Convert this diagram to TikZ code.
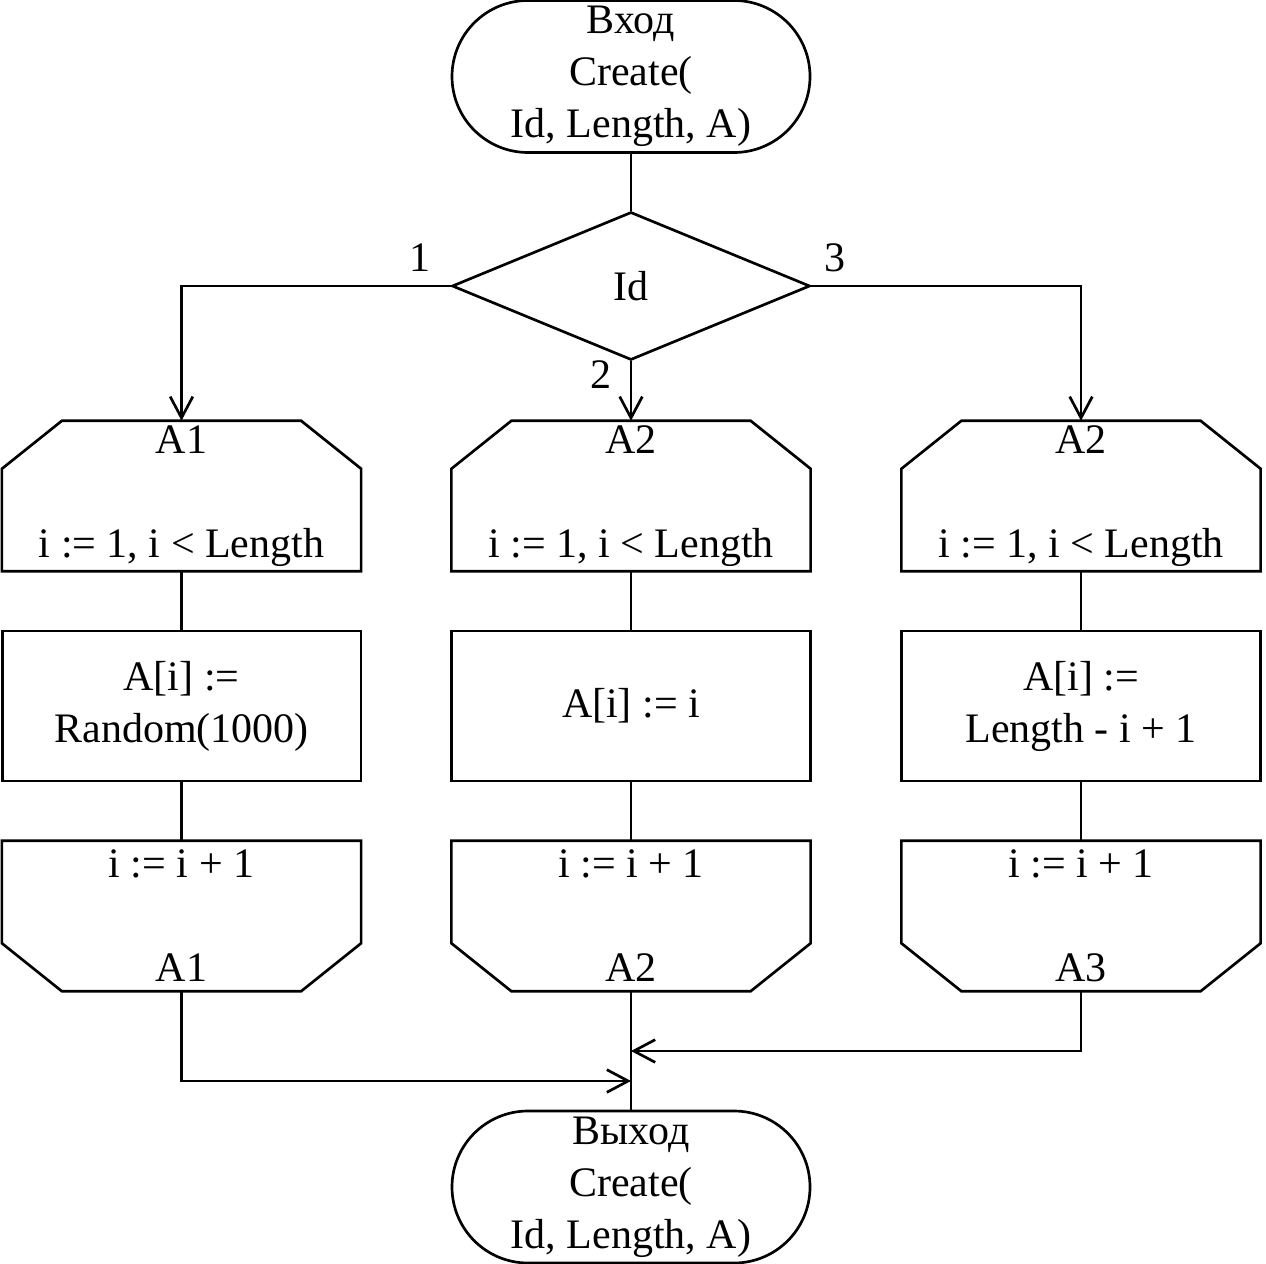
\documentclass[tikz,border=0pt]{standalone}
\usepackage{fontspec}
\setmainfont{Liberation Serif}
\usetikzlibrary{arrows.meta,shapes.geometric}
\begin{document}
\begin{tikzpicture}[x=0.75pt,y=-0.75pt,
  every node/.style={font=\fontsize{31.5}{39}\selectfont, align=center, inner sep=0pt},
  conn/.style={line width=2pt},
  arr/.style={conn, -{Straight Barb[length=16pt,width=17pt,line width=2pt]}},
  term/.style={draw, line width=2pt, rectangle, rounded corners=57pt, minimum width=268.5pt, minimum height=114pt},
  dec/.style={draw, line width=2pt, diamond, minimum width=268.5pt, minimum height=111pt},
  proc/.style={draw, line width=2pt, rectangle, minimum width=269pt, minimum height=112.5pt},
  loopbox/.style={rectangle, minimum width=269pt, minimum height=112.5pt},
  lbl/.style={}
]
\useasboundingbox (0,0) rectangle (1266,1263);

\node[term] (start) at (631,76.5) {Вход\\Create(\\Id, Length, A)};
\node[dec] (d) at (631,286) {Id};

\node[loopbox] (s1) at (181.5,496) {A1\\ \\i := 1, i {\char`\<} Length};
\node[loopbox] (s2) at (631,496) {A2\\ \\i := 1, i {\char`\<} Length};
\node[loopbox] (s3) at (1081,496) {A2\\ \\i := 1, i {\char`\<} Length};

\node[proc] (p1) at (181.5,706) {A[i] :=\\Random(1000)};
\node[proc] (p2) at (631,706) {A[i] := i};
\node[proc] (p3) at (1081,706) {A[i] :=\\Length - i + 1};

\node[loopbox] (e1) at (181.5,916) {i := i + 1\\ \\A1};
\node[loopbox] (e2) at (631,916) {i := i + 1\\ \\A2};
\node[loopbox] (e3) at (1081,916) {i := i + 1\\ \\A3};

\node[term] (end) at (631,1187) {Выход\\Create(\\Id, Length, A)};

\node[lbl] (l1) at (420,258) {1};
\node[lbl] (l3) at (835,258) {3};
\node[lbl] (l2) at (601,375) {2};

\foreach \n in {s1,s2,s3}{
  \draw[line width=2pt, line join=miter]
    ([xshift=45pt]\n.north west) -- ([xshift=-45pt]\n.north east)
    -- ([yshift=-36pt]\n.north east) -- (\n.south east) -- (\n.south west)
    -- ([yshift=-36pt]\n.north west) -- cycle;
}
\foreach \n in {e1,e2,e3}{
  \draw[line width=2pt, line join=miter]
    (\n.north west) -- (\n.north east)
    -- ([yshift=36pt]\n.south east) -- ([xshift=-45pt]\n.south east)
    -- ([xshift=45pt]\n.south west) -- ([yshift=36pt]\n.south west) -- cycle;
}

\coordinate (m1) at (631,1081);
\coordinate (m2) at (631,1051);

\draw[conn] (start) -- (d);
\draw[arr] (d.west) -| (s1.north);
\draw[arr] (d.south) -- (s2.north);
\draw[arr] (d.east) -| (s3.north);
\foreach \i in {1,2,3}{
  \draw[conn] (s\i) -- (p\i);
  \draw[conn] (p\i) -- (e\i);
}
\draw[arr] (e1.south) |- (m1);
\draw[arr] (e3.south) |- (m2);
\draw[conn] (e2.south) -- (end);
\end{tikzpicture}
\end{document}
